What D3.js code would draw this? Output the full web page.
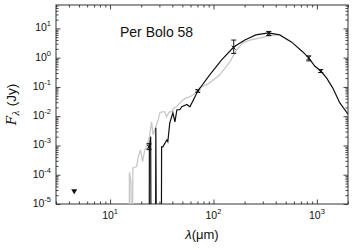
<!DOCTYPE html>
<html>
<head>
<meta charset="utf-8">
<script src="https://cdn.jsdelivr.net/npm/d3@7"></script>
<style>
  body { margin: 0; background: #fff; }
  svg { display: block; font-family: "Liberation Sans", Arial, sans-serif; }
</style>
</head>
<body>
<script>
// model SEDs, [wavelength (um), flux (Jy)]; 1e-7 = falls below the axis
const blackModel = [
  [23.9, 1e-7], [24.0, 9e-4], [24.7, 2e-3], [24.9, 1e-7], [27.5, 1e-7], [27.7, 4e-3],
  [28.1, 1e-7], [31.3, 1e-7], [31.5, 9e-4], [32.4, 9e-4], [35.4, 1.55e-3], [36.2, 1.35e-3],
  [37.8, 5.9e-3], [40.5, 0.013], [42.4, 6.4e-3], [44.3, 0.0166], [47.3, 0.0166],
  [49.4, 0.021], [55.3, 0.025], [59.2, 0.021], [70.6, 0.073], [92, 0.26], [120, 0.84],
  [157, 2.3], [201, 4.0], [257, 6.0], [340, 7.0], [437, 6.0], [571, 3.4], [731, 1.57],
  [834, 0.98], [953, 0.52], [1090, 0.35], [1245, 0.2], [1422, 0.093], [1663, 0.029],
  [1990, 0.012]
];

const grayModel = [
  [15.25, 1e-7], [15.4, 1.2e-4], [15.9, 6e-5], [16.3, 1e-7], [16.45, 1e-7], [16.6, 1.7e-4],
  [18.1, 1.9e-4], [18.7, 4.1e-4], [19.7, 7.1e-4], [20.6, 2.8e-4], [21.7, 7.1e-4],
  [22.6, 8.9e-4], [23.9, 1.8e-3], [25.2, 6.4e-3], [26.1, 2.3e-3], [27.7, 4.3e-3],
  [29.2, 7.6e-3], [30.3, 0.013], [31.5, 0.014], [33.9, 0.014], [35.2, 9.5e-3],
  [37.3, 0.014], [39.4, 0.014], [41.4, 0.019], [44, 0.021], [47.3, 0.0285], [50.9, 0.036],
  [55, 0.043], [59.2, 0.046], [63.7, 0.054], [68.6, 0.068], [73.8, 0.093], [92, 0.138],
  [115, 0.26], [144, 0.72], [168, 1.84], [192, 3.2], [224, 4.0], [281, 4.7], [335, 5.5],
  [419, 6.0]
];

// photometry
const photWave = [23.8, 70.6, 157, 343, 834, 1090];
const photFlux = [9e-4, 0.073, 2.2, 6.8, 0.98, 0.35];
const photLo   = [7.2e-4, 0.066, 1.4, 5.7, 0.78, 0.31];
const photHi   = [1.15e-3, 0.080, 4.0, 7.9, 1.15, 0.39];

// upper limits
const limWave = [4.5];
const limFlux = [2.6e-5];

const xMajor = [10, 100, 1000];
const yMajor = [1e-5, 1e-4, 1e-3, 1e-2, 1e-1, 1, 10];

const width = 354, height = 250;
const margin = { top: 5, right: 6, bottom: 46, left: 56 };
const innerW = width - margin.left - margin.right;
const innerH = height - margin.top - margin.bottom;

const svg = d3.select('body').append('svg')
    .attr('width', width)
    .attr('height', height);

const g = svg.append('g')
    .attr('transform', `translate(${margin.left},${margin.top})`);

const x = d3.scaleLog().domain([3, 2000]).range([0, innerW]);
const y = d3.scaleLog().domain([1e-5, Math.pow(10, 1.8)]).range([innerH, 0]);

g.append('clipPath').attr('id', 'plot-clip')
  .append('rect').attr('width', innerW).attr('height', innerH);

// minor ticks in each decade
function minorTicks(scale) {
    const [a, b] = scale.domain();
    const out = [];
    for (let e = Math.floor(Math.log10(a)); e <= Math.ceil(Math.log10(b)); e++) {
        for (let k = 2; k <= 9; k++) {
            const v = k * Math.pow(10, e);
            if (v >= a && v <= b) out.push(v);
        }
    }
    return out;
}

function drawAxis(axis, transform) {
    const a = g.append('g').attr('transform', transform).call(axis);
    a.select('.domain').remove();
    a.selectAll('line').attr('stroke', '#444');
    a.selectAll('text').remove();
}

// ticks point inward on all four sides (negative size)
[[d3.axisBottom, `translate(0,${innerH})`, x, xMajor],
 [d3.axisTop, 'translate(0,0)', x, xMajor],
 [d3.axisLeft, 'translate(0,0)', y, yMajor],
 [d3.axisRight, `translate(${innerW},0)`, y, yMajor]]
  .forEach(([ax, tr, sc, major]) => {
      drawAxis(ax(sc).tickValues(major).tickSize(-4.5).tickSizeOuter(0), tr);
      drawAxis(ax(sc).tickValues(minorTicks(sc)).tickSize(-2.5).tickSizeOuter(0), tr);
  });

// frame
g.append('rect')
  .attr('width', innerW).attr('height', innerH)
  .attr('fill', 'none').attr('stroke', '#333').attr('stroke-width', 1);

// tick labels with superscript exponents
const labFont = 10.5, supFont = 7.5;
xMajor.forEach(v => {
    const t = g.append('text')
        .attr('x', x(v)).attr('y', innerH + 15)
        .attr('text-anchor', 'middle')
        .attr('font-size', labFont).attr('fill', '#111');
    t.append('tspan').text('10');
    t.append('tspan').attr('dy', -5).attr('font-size', supFont).text(Math.round(Math.log10(v)));
});
yMajor.forEach(v => {
    const t = g.append('text')
        .attr('x', -5).attr('y', y(v) + 3)
        .attr('text-anchor', 'end')
        .attr('font-size', labFont).attr('fill', '#111');
    t.append('tspan').text('10');
    t.append('tspan').attr('dy', -5).attr('font-size', supFont).text(Math.round(Math.log10(v)));
});

// axis labels
svg.append('text')
  .attr('x', margin.left + innerW / 2).attr('y', 239)
  .attr('text-anchor', 'middle').attr('font-size', 13).attr('fill', '#111')
  .call(t => {
      t.append('tspan').attr('font-style', 'italic').text('λ');
      t.append('tspan').text('(μm)');
  });

svg.append('text')
  .attr('transform', `translate(16,${margin.top + innerH / 2}) rotate(-90)`)
  .attr('text-anchor', 'middle').attr('font-size', 13.5).attr('fill', '#111')
  .call(t => {
      t.append('tspan').attr('font-family', '"DejaVu Serif", "Liberation Serif", serif')
        .attr('font-style', 'italic').text('F');
      t.append('tspan').attr('font-family', '"DejaVu Serif", "Liberation Serif", serif')
        .attr('font-style', 'italic').attr('font-size', 9).attr('dy', 3).text('λ');
      t.append('tspan').attr('dy', -3).text(' (Jy)');
  });

// title
g.append('text')
  .attr('x', 120 - margin.left).attr('y', 37 - margin.top)
  .attr('font-size', 14).attr('fill', '#111')
  .text('Per Bolo 58');

const line = d3.line().x(d => x(d[0])).y(d => y(d[1]));
const plot = g.append('g').attr('clip-path', 'url(#plot-clip)');

plot.append('path').datum(grayModel)
  .attr('d', line).attr('fill', 'none')
  .attr('stroke', '#c8c8c8').attr('stroke-width', 1.3);

plot.append('path').datum(blackModel)
  .attr('d', line).attr('fill', 'none')
  .attr('stroke', '#111').attr('stroke-width', 1.2);

// error bars + x markers
const phot = photWave.map((w, i) => ({ w, f: photFlux[i], lo: photLo[i], hi: photHi[i] }));
const eb = plot.selectAll('g.eb').data(phot).enter().append('g')
  .attr('stroke', '#111').attr('stroke-width', 1);
eb.append('line')
  .attr('x1', d => x(d.w)).attr('x2', d => x(d.w))
  .attr('y1', d => y(d.lo)).attr('y2', d => y(d.hi));
eb.append('line')
  .attr('x1', d => x(d.w) - 2.5).attr('x2', d => x(d.w) + 2.5)
  .attr('y1', d => y(d.lo)).attr('y2', d => y(d.lo));
eb.append('line')
  .attr('x1', d => x(d.w) - 2.5).attr('x2', d => x(d.w) + 2.5)
  .attr('y1', d => y(d.hi)).attr('y2', d => y(d.hi));
eb.append('path')
  .attr('d', d => {
      const cx = x(d.w), cy = y(d.f), r = 2;
      return `M${cx - r},${cy - r}L${cx + r},${cy + r}M${cx - r},${cy + r}L${cx + r},${cy - r}`;
  });

// upper limits
plot.selectAll('path.lim').data(limWave).enter().append('path')
  .attr('class', 'lim')
  .attr('d', (w, i) => {
      const cx = x(w), cy = y(limFlux[i]);
      return `M${cx - 3},${cy - 2.5}L${cx + 3},${cy - 2.5}L${cx},${cy + 2.5}Z`;
  })
  .attr('fill', '#111');
</script>
</body>
</html>
